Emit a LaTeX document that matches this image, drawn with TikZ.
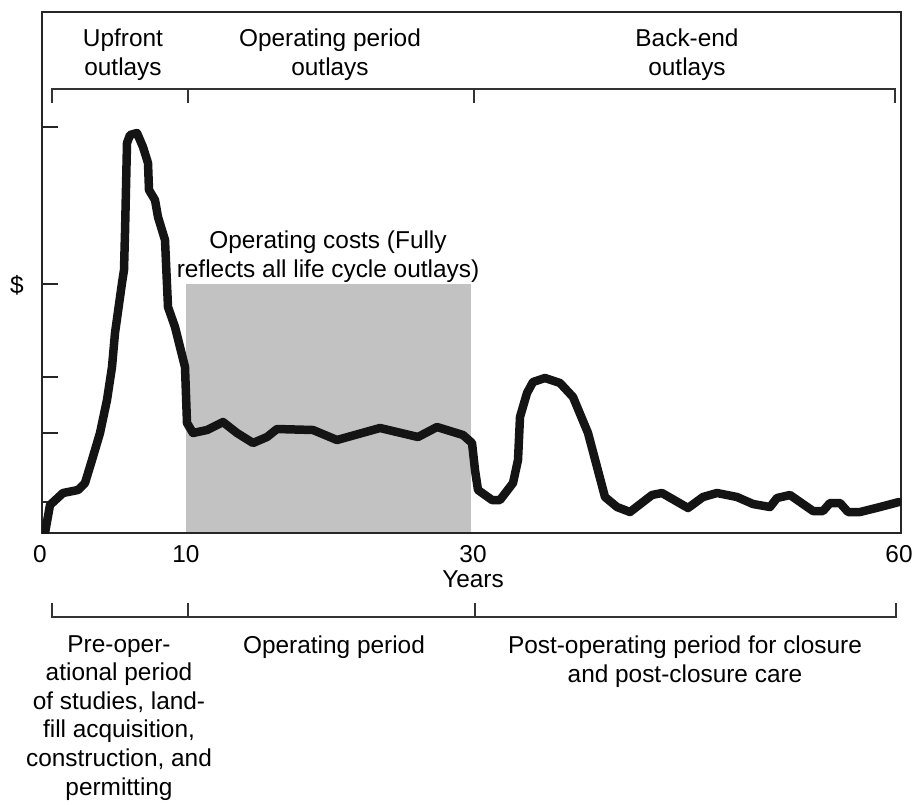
\documentclass[tikz,border=0pt]{standalone}
\usepackage{fontspec}
\setmainfont{Liberation Sans}
\begin{document}
\begin{tikzpicture}[x=1pt,y=-1pt,
  lbl/.style={font=\fontsize{24.4}{28.6}\selectfont, align=center, inner sep=0pt, anchor=base},
  frameline/.style={line width=1.8pt, black!85},
  bracket/.style={line width=1.6pt, black!80},
  costcurve/.style={line width=8.5pt, line join=round, line cap=round, black!92},
  shade/.style={fill=black!24},
]
\useasboundingbox (0,0) rectangle (918,804);
\fill[white] (0,0) rectangle (918,804);
% shaded operating-cost block
\fill[shade] (186,284) rectangle (471,533);
% frame and axis
\draw[frameline] (42,533) -- (42,12) -- (901,12) -- (901,533) -- cycle;
% y ticks
\foreach \yy in {127,284,377,433,502} \draw[frameline] (42,\yy) -- (58,\yy);
% top bracket
\draw[bracket] (52,103) -- (52,89) -- (895,89) -- (895,103);
\draw[bracket] (188,89) -- (188,103);
\draw[bracket] (474,89) -- (474,103);
% bottom bracket
\draw[bracket] (52,603) -- (52,617) -- (896,617) -- (896,603);
\draw[bracket] (188,617) -- (188,603);
\draw[bracket] (475,617) -- (475,603);
% curve
\begin{scope}
\clip (42,0) rectangle (901,533);
\draw[costcurve] plot coordinates {
(45,533) (50,505) (63,493) (78,490) (85,483) (92,460) (100,433) (107,400)
(112,367) (115,333) (122,283) (124,270) (125,233) (127,143) (130,135) (137,133)
(143,147) (148,163) (149,190) (155,200) (158,217) (165,240) (168,307) (175,327)
(180,347) (185,367) (187,423) (193,433) (207,430) (223,422) (237,433) (253,443)
(267,437) (277,429) (313,430) (337,440) (380,428) (418,437) (437,427) (463,435)
(472,443) (475,470) (478,490) (492,500) (500,500) (513,483) (518,460) (520,417)
(527,393) (533,382) (545,378) (560,383) (573,397) (588,433) (605,497) (617,507)
(630,512) (652,495) (662,493) (688,508) (703,497) (717,493) (737,497) (753,504)
(770,507) (777,498) (790,495) (813,511) (823,511) (830,503) (840,503) (848,512)
(860,512) (880,507) (899,502)};
\end{scope}
% labels (anchored at the baseline of the last line)
\node[lbl] (up) at (123,75) {Upfront\\outlays};
\node[lbl] (op) at (330,75) {Operating period\\outlays};
\node[lbl] (be) at (687,75) {Back-end\\outlays};
\node[lbl] (cost) at (328,277) {Operating costs (Fully\\reflects all life cycle outlays)};
\node[lbl] (dollar) at (17,293) {\$};
\node[lbl] (x0) at (40,562) {0};
\node[lbl] (x10) at (186,562) {10};
\node[lbl] (x30) at (473,562) {30};
\node[lbl] (x60) at (899,562) {60};
\node[lbl] (years) at (473,587) {Years};
\node[lbl] (pre) at (119,795) {Pre-oper-\\ational period\\of studies, land-\\fill acquisition,\\construction, and\\permitting};
\node[lbl] (opp) at (334,653) {Operating period};
\node[lbl] (post) at (685,682) {Post-operating period for closure\\and post-closure care};
\end{tikzpicture}
\end{document}
